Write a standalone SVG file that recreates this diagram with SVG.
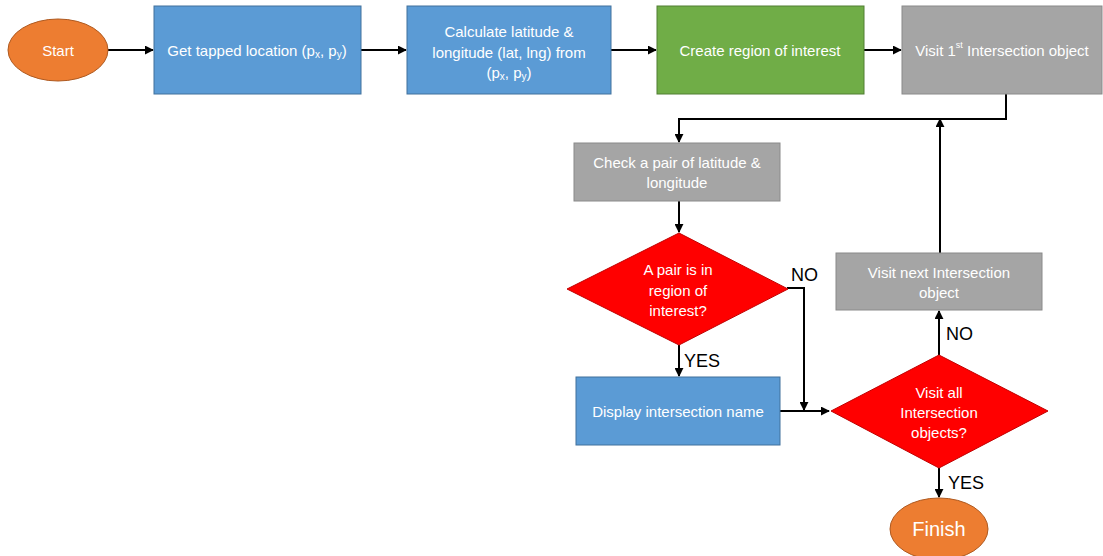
<svg xmlns="http://www.w3.org/2000/svg" width="1103" height="556" viewBox="0 0 1103 556">
  <style>
    .t { font-family: "Liberation Sans", Arial, sans-serif; font-size: 15px; fill: #ffffff; text-anchor: middle; dominant-baseline: central; }
    .lbl { font-family: "Liberation Sans", Arial, sans-serif; font-size: 18px; fill: #000000; }
    .blue { fill: #5B9BD5; stroke: #41719C; stroke-width: 1; }
    .green { fill: #70AD47; stroke: #507E32; stroke-width: 1; }
    .gray { fill: #A5A5A5; stroke: #8A8A8A; stroke-width: 1; }
    .orange { fill: #ED7D31; stroke: #AE5A21; stroke-width: 1; }
    .red { fill: #FF0000; stroke: #C00000; stroke-width: 1; }
    .conn { fill: none; stroke: #000000; stroke-width: 2; marker-end: url(#arr); }
  </style>
  <defs>
    <marker id="arr" viewBox="0 0 10 10" refX="9" refY="5" markerWidth="4.5" markerHeight="4.5" orient="auto" markerUnits="strokeWidth">
      <path d="M0,0 L10,5 L0,10 z" fill="#000000"/>
    </marker>
  </defs>
  <rect width="1103" height="556" fill="#ffffff"/>

  <g id="connectors">
    <path class="conn" d="M108,50 H153"/>
    <path class="conn" d="M361,50 H406"/>
    <path class="conn" d="M611,50 H656"/>
    <path class="conn" d="M864,50 H901"/>
    <path class="conn" d="M1006,94 V119 H679 V142"/>
    <path class="conn" d="M679,201 V232"/>
    <path class="conn" d="M679,345 V376"/>
    <path class="conn" d="M787,288 H804 V410"/>
    <path class="conn" d="M780,411 H829"/>
    <path class="conn" d="M939,355 V311"/>
    <path class="conn" d="M940,253 V119"/>
    <path class="conn" d="M939,468 V497"/>
  </g>

  <g id="start">
    <ellipse class="orange" cx="58" cy="50" rx="50" ry="31"/>
    <text class="t" x="58" y="50">Start</text>
  </g>

  <g id="get-location">
    <rect class="blue" x="154" y="6" width="207" height="88"/>
    <text class="t" x="257" y="50">Get tapped location (p<tspan font-size="10" dy="4">x</tspan><tspan dy="-4">, p</tspan><tspan font-size="10" dy="4">y</tspan><tspan dy="-4">)</tspan></text>
  </g>

  <g id="calc-latlng">
    <rect class="blue" x="407" y="6" width="204" height="88"/>
    <text class="t" x="509" y="31">Calculate latitude &amp;</text>
    <text class="t" x="509" y="52">longitude (lat, lng) from</text>
    <text class="t" x="509" y="72">(p<tspan font-size="10" dy="4">x</tspan><tspan dy="-4">, p</tspan><tspan font-size="10" dy="4">y</tspan><tspan dy="-4">)</tspan></text>
  </g>

  <g id="create-region">
    <rect class="green" x="657" y="6" width="207" height="88"/>
    <text class="t" x="760" y="50">Create region of interest</text>
  </g>

  <g id="visit-first">
    <rect class="gray" x="902" y="6" width="200" height="88"/>
    <text class="t" x="1002" y="50">Visit 1<tspan font-size="9" dy="-5">st</tspan><tspan dy="5"> Intersection object</tspan></text>
  </g>

  <g id="check-pair">
    <rect class="gray" x="574" y="143" width="206" height="58"/>
    <text class="t" x="677" y="162">Check a pair of latitude &amp;</text>
    <text class="t" x="677" y="182">longitude</text>
  </g>

  <g id="in-region">
    <polygon class="red" points="679,233 788,289 679,345 567,289"/>
    <text class="t" x="678" y="269">A pair is in</text>
    <text class="t" x="678" y="290">region of</text>
    <text class="t" x="678" y="310">interest?</text>
  </g>

  <g id="display-name">
    <rect class="blue" x="576" y="377" width="204" height="68"/>
    <text class="t" x="678" y="411">Display intersection name</text>
  </g>

  <g id="visit-all">
    <polygon class="red" points="939,355 1048,411 939,468 831,411"/>
    <text class="t" x="939" y="392">Visit all</text>
    <text class="t" x="939" y="412">Intersection</text>
    <text class="t" x="939" y="432">objects?</text>
  </g>

  <g id="visit-next">
    <rect class="gray" x="836" y="253" width="206" height="57"/>
    <text class="t" x="939" y="272">Visit next Intersection</text>
    <text class="t" x="939" y="292">object</text>
  </g>

  <g id="finish">
    <ellipse class="orange" cx="939" cy="529" rx="49" ry="31"/>
    <text class="t" x="939" y="529" style="font-size:20px">Finish</text>
  </g>

  <g id="labels">
    <text class="lbl" x="791" y="281">NO</text>
    <text class="lbl" x="684" y="367">YES</text>
    <text class="lbl" x="946" y="340">NO</text>
    <text class="lbl" x="948" y="489">YES</text>
  </g>
</svg>
